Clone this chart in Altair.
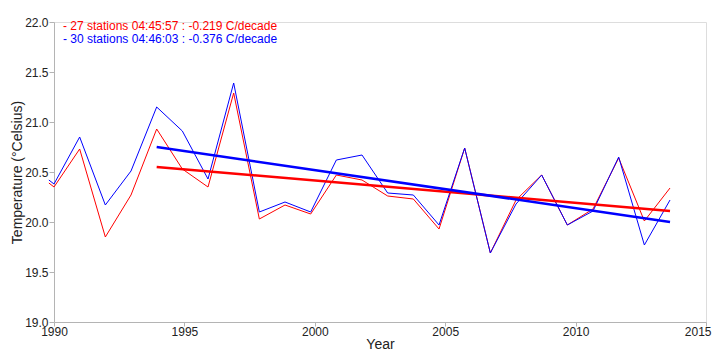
import altair as alt
import pandas as pd

# Years (first entry is a short lead-in point just before 1990)
years = [1989.8, 1990, 1991, 1992, 1993, 1994, 1995, 1996, 1997, 1998, 1999,
         2000, 2001, 2002, 2003, 2004, 2005, 2006, 2007, 2008, 2009,
         2010, 2011, 2012, 2013, 2014]

red_vals = [20.39, 20.35, 20.73, 19.85, 20.27, 20.93, 20.53, 20.35, 21.29, 20.03, 20.17,
            20.08, 20.47, 20.42, 20.26, 20.23, 19.93, 20.74, 19.69, 20.22, 20.47,
            19.97, 20.13, 20.64, 20.01, 20.34]

blue_vals = [20.42, 20.38, 20.85, 20.17, 20.51, 21.15, 20.91, 20.43, 21.39, 20.10, 20.20,
             20.10, 20.62, 20.67, 20.29, 20.27, 19.97, 20.74, 19.69, 20.18, 20.47,
             19.97, 20.11, 20.65, 19.77, 20.22]

series_names = ["27 stations", "30 stations"]
series_colors = ["#ff0000", "#0000ff"]
legend_texts = ["- 27 stations 04:45:57 : -0.219 C/decade",
                "- 30 stations 04:46:03 : -0.376 C/decade"]

trend_years = [1994, 2014]
red_trend = [20.55, 20.11]
blue_trend = [20.75, 20.00]

x_ticks = [1990, 1995, 2000, 2005, 2010, 2015]
y_ticks = [19.0, 19.5, 20.0, 20.5, 21.0, 21.5, 22.0]

df_red = pd.DataFrame({"year": years, "temp": red_vals})
df_blue = pd.DataFrame({"year": years, "temp": blue_vals})
tdf_red = pd.DataFrame({"year": trend_years, "temp": red_trend})
tdf_blue = pd.DataFrame({"year": trend_years, "temp": blue_trend})

FONT = "Liberation Sans"
calc = "1990 + (datum.year - 1990) * 0.9842"

x_enc = alt.X("pos:Q",
              scale=alt.Scale(domain=[1990, 2015], nice=False, zero=False),
              axis=alt.Axis(values=x_ticks, format="d", title="Year", grid=False,
                            tickSize=4, labelPadding=0, titlePadding=0, labelFlush=False,
                            labelAlign={"condition": {"test": "datum.value >= 2015",
                                                      "value": "right"},
                                        "value": "center"},
                            labelOffset={"condition": {"test": "datum.value >= 2015",
                                                       "value": 5},
                                         "value": 0},
                            domainColor="#b4b4b4", tickColor="#b4b4b4",
                            labelColor="#222222", labelFontSize=12, labelFont=FONT,
                            titleFont=FONT, titleFontSize=14, titleFontWeight="normal",
                            titleColor="#222222"))
y_enc = alt.Y("temp:Q", scale=alt.Scale(domain=[19, 22], nice=False, zero=False),
              axis=alt.Axis(values=y_ticks, format=".1f", title="Temperature (°Celsius)",
                            grid=False, tickSize=5, labelPadding=1, titlePadding=0,
                            labelFlush=False,
                            domainColor="#b4b4b4", tickColor="#b4b4b4",
                            labelColor="#222222", labelFontSize=12, labelFont=FONT,
                            titleFont=FONT, titleFontSize=14, titleFontWeight="normal",
                            titleColor="#222222"))


def series_line(data, color, width):
    return alt.Chart(data).transform_calculate(pos=calc).mark_line(
        strokeWidth=width, color=color).encode(x=x_enc, y=y_enc, order="year:Q")


lines_red = series_line(df_red, series_colors[0], 1)
lines_blue = series_line(df_blue, series_colors[1], 1)
trend_red = series_line(tdf_red, series_colors[0], 2.5)
trend_blue = series_line(tdf_blue, series_colors[1], 2.5)


def legend_line(i, ypix):
    d = pd.DataFrame({"text": [legend_texts[i]]})
    return alt.Chart(d).mark_text(align="left", baseline="middle", font=FONT,
                                  fontSize=12, color=series_colors[i]).encode(
        x=alt.value(9), y=alt.value(ypix), text="text:N")


chart = alt.layer(lines_red, lines_blue, trend_red, trend_blue,
                  legend_line(0, 4), legend_line(1, 17)).properties(
    width=652, height=300,
    autosize=alt.AutoSizeParams(type="none"),
    padding={"left": 46, "top": 14, "right": 6, "bottom": 30},
).configure_view(stroke=None).configure(background="white")

chart.save("out.html", embed_options={"renderer": "svg", "actions": False})
